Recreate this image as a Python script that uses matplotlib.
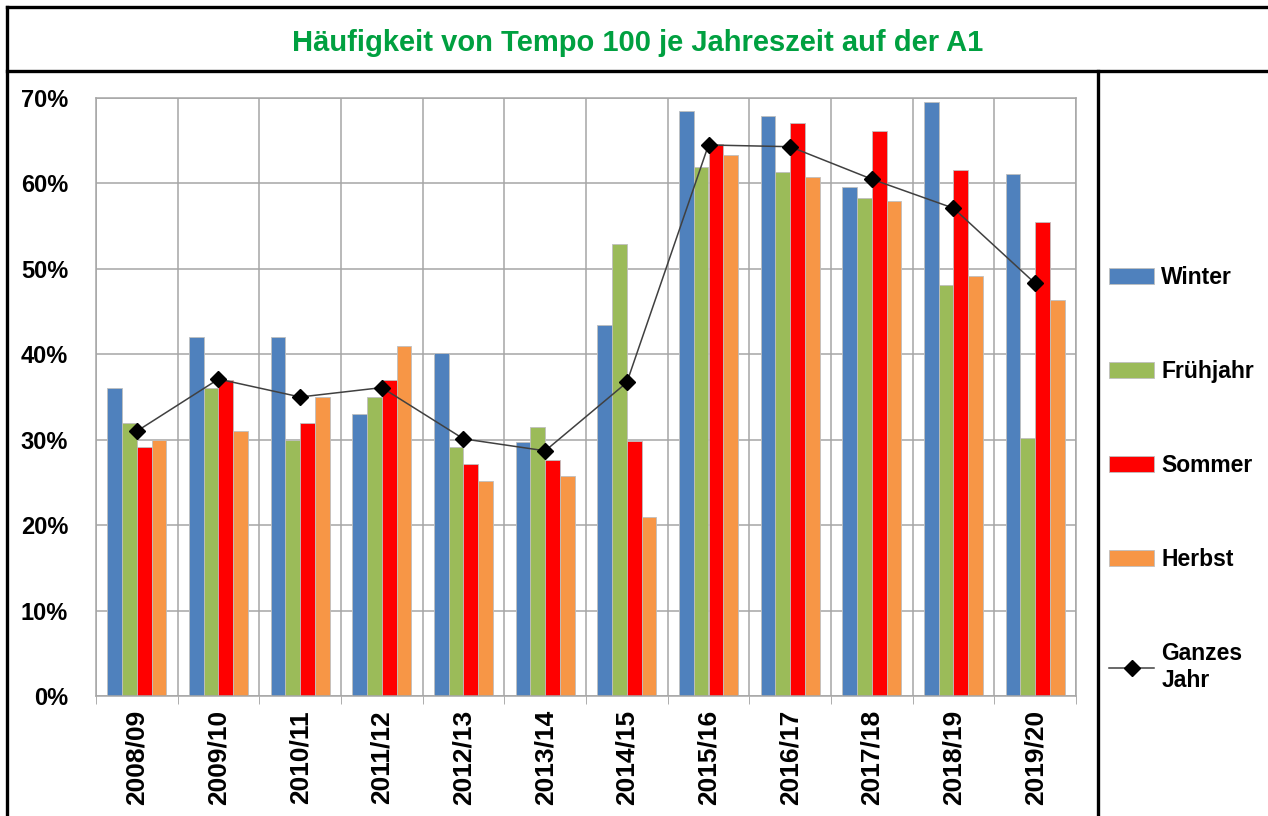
import numpy as np
import matplotlib.pyplot as plt
from matplotlib.lines import Line2D
from matplotlib.ticker import FixedLocator, PercentFormatter

plt.rcParams['font.family'] = ['Liberation Sans', 'DejaVu Sans']

seasons = ['2008/09', '2009/10', '2010/11', '2011/12', '2012/13', '2013/14',
           '2014/15', '2015/16', '2016/17', '2017/18', '2018/19', '2019/20']

winter = [36.0, 42.0, 42.0, 33.0, 40.1, 29.7, 43.4, 68.5, 67.9, 59.6, 69.5, 61.1]
fruehjahr = [32.0, 36.0, 30.0, 35.0, 29.1, 31.5, 52.9, 61.9, 61.3, 58.3, 48.1, 30.2]
sommer = [29.1, 37.0, 32.0, 37.0, 27.1, 27.6, 29.9, 64.6, 67.1, 66.1, 61.6, 55.5]
herbst = [30.0, 31.0, 35.0, 41.0, 25.2, 25.8, 20.9, 63.3, 60.8, 58.0, 49.2, 46.4]
ganzes_jahr = [31.0, 37.1, 35.0, 36.1, 30.1, 28.7, 36.7, 64.5, 64.3, 60.5, 57.1, 48.3]

series = [('Winter', winter, '#4F81BD'),
          ('Frühjahr', fruehjahr, '#9BBB59'),
          ('Sommer', sommer, '#FF0000'),
          ('Herbst', herbst, '#F79646')]

fig = plt.figure(figsize=(12.68, 8.16), dpi=100)
ax = fig.add_axes([96 / 1268, 1 - 696 / 816, 980 / 1268, 598 / 816])

x = np.arange(len(seasons))
w = 0.18
handles = []
for i, (name, vals, col) in enumerate(series):
    b = ax.bar(x + (i - 1.5) * w, vals, w, color=col, edgecolor='#BFBFBF',
               linewidth=0.6, label=name, zorder=2)
    handles.append(b)

ln, = ax.plot(x, ganzes_jahr, color='#404040', lw=1.1, marker='D', ms=8,
              mfc='black', mec='black', label='Ganzes\nJahr', zorder=3)
handles.append(ln)

ax.set_xlim(-0.5, len(seasons) - 0.5)
ax.set_ylim(0, 70)
ax.set_yticks(range(0, 71, 10))
ax.yaxis.set_major_formatter(PercentFormatter(decimals=0))
ax.set_xticks(x)
ax.set_xticklabels(seasons, rotation=90, fontsize=19, fontweight='bold')
ax.xaxis.set_minor_locator(FixedLocator(np.arange(-0.5, len(seasons), 1)))
ax.tick_params(axis='x', which='major', length=0, pad=10)
ax.tick_params(axis='x', which='minor', length=6, color='#A0A0A0', direction='out')
ax.tick_params(axis='y', length=0, pad=20, labelsize=17)
for lab in ax.get_yticklabels():
    lab.set_fontweight('bold')

ax.grid(axis='y', color='#A6A6A6', lw=1.1, zorder=0)
ax.grid(axis='x', which='minor', color='#A6A6A6', lw=1.1, zorder=0)
ax.set_axisbelow(True)
for sp in ax.spines.values():
    sp.set_color('#A6A6A6')
    sp.set_linewidth(1.1)

fig.text(0.503, 1 - 43 / 816, 'Häufigkeit von Tempo 100 je Jahreszeit auf der A1',
         ha='center', va='center', fontsize=21, fontweight='bold', color='#00A040')

fig.legend(handles=handles, loc='center left', bbox_to_anchor=(1088 / 1268, 1 - 479 / 816),
           frameon=False, prop={'size': 16.5, 'weight': 'bold'},
           handlelength=2.0, handletextpad=0.3, labelspacing=3.1)

# frame lines around title and chart
lk = dict(color='black', lw=2.4, transform=fig.transFigure)
fig.add_artist(Line2D([7 / 1268, 7 / 1268], [0, 1 - 7 / 816], **lk))
fig.add_artist(Line2D([7 / 1268, 1], [1 - 7 / 816, 1 - 7 / 816], **lk))
fig.add_artist(Line2D([7 / 1268, 1], [1 - 71 / 816, 1 - 71 / 816], **lk))
fig.add_artist(Line2D([1098 / 1268, 1098 / 1268], [0, 1 - 71 / 816], **lk))

fig.savefig('out.png', dpi=100)
